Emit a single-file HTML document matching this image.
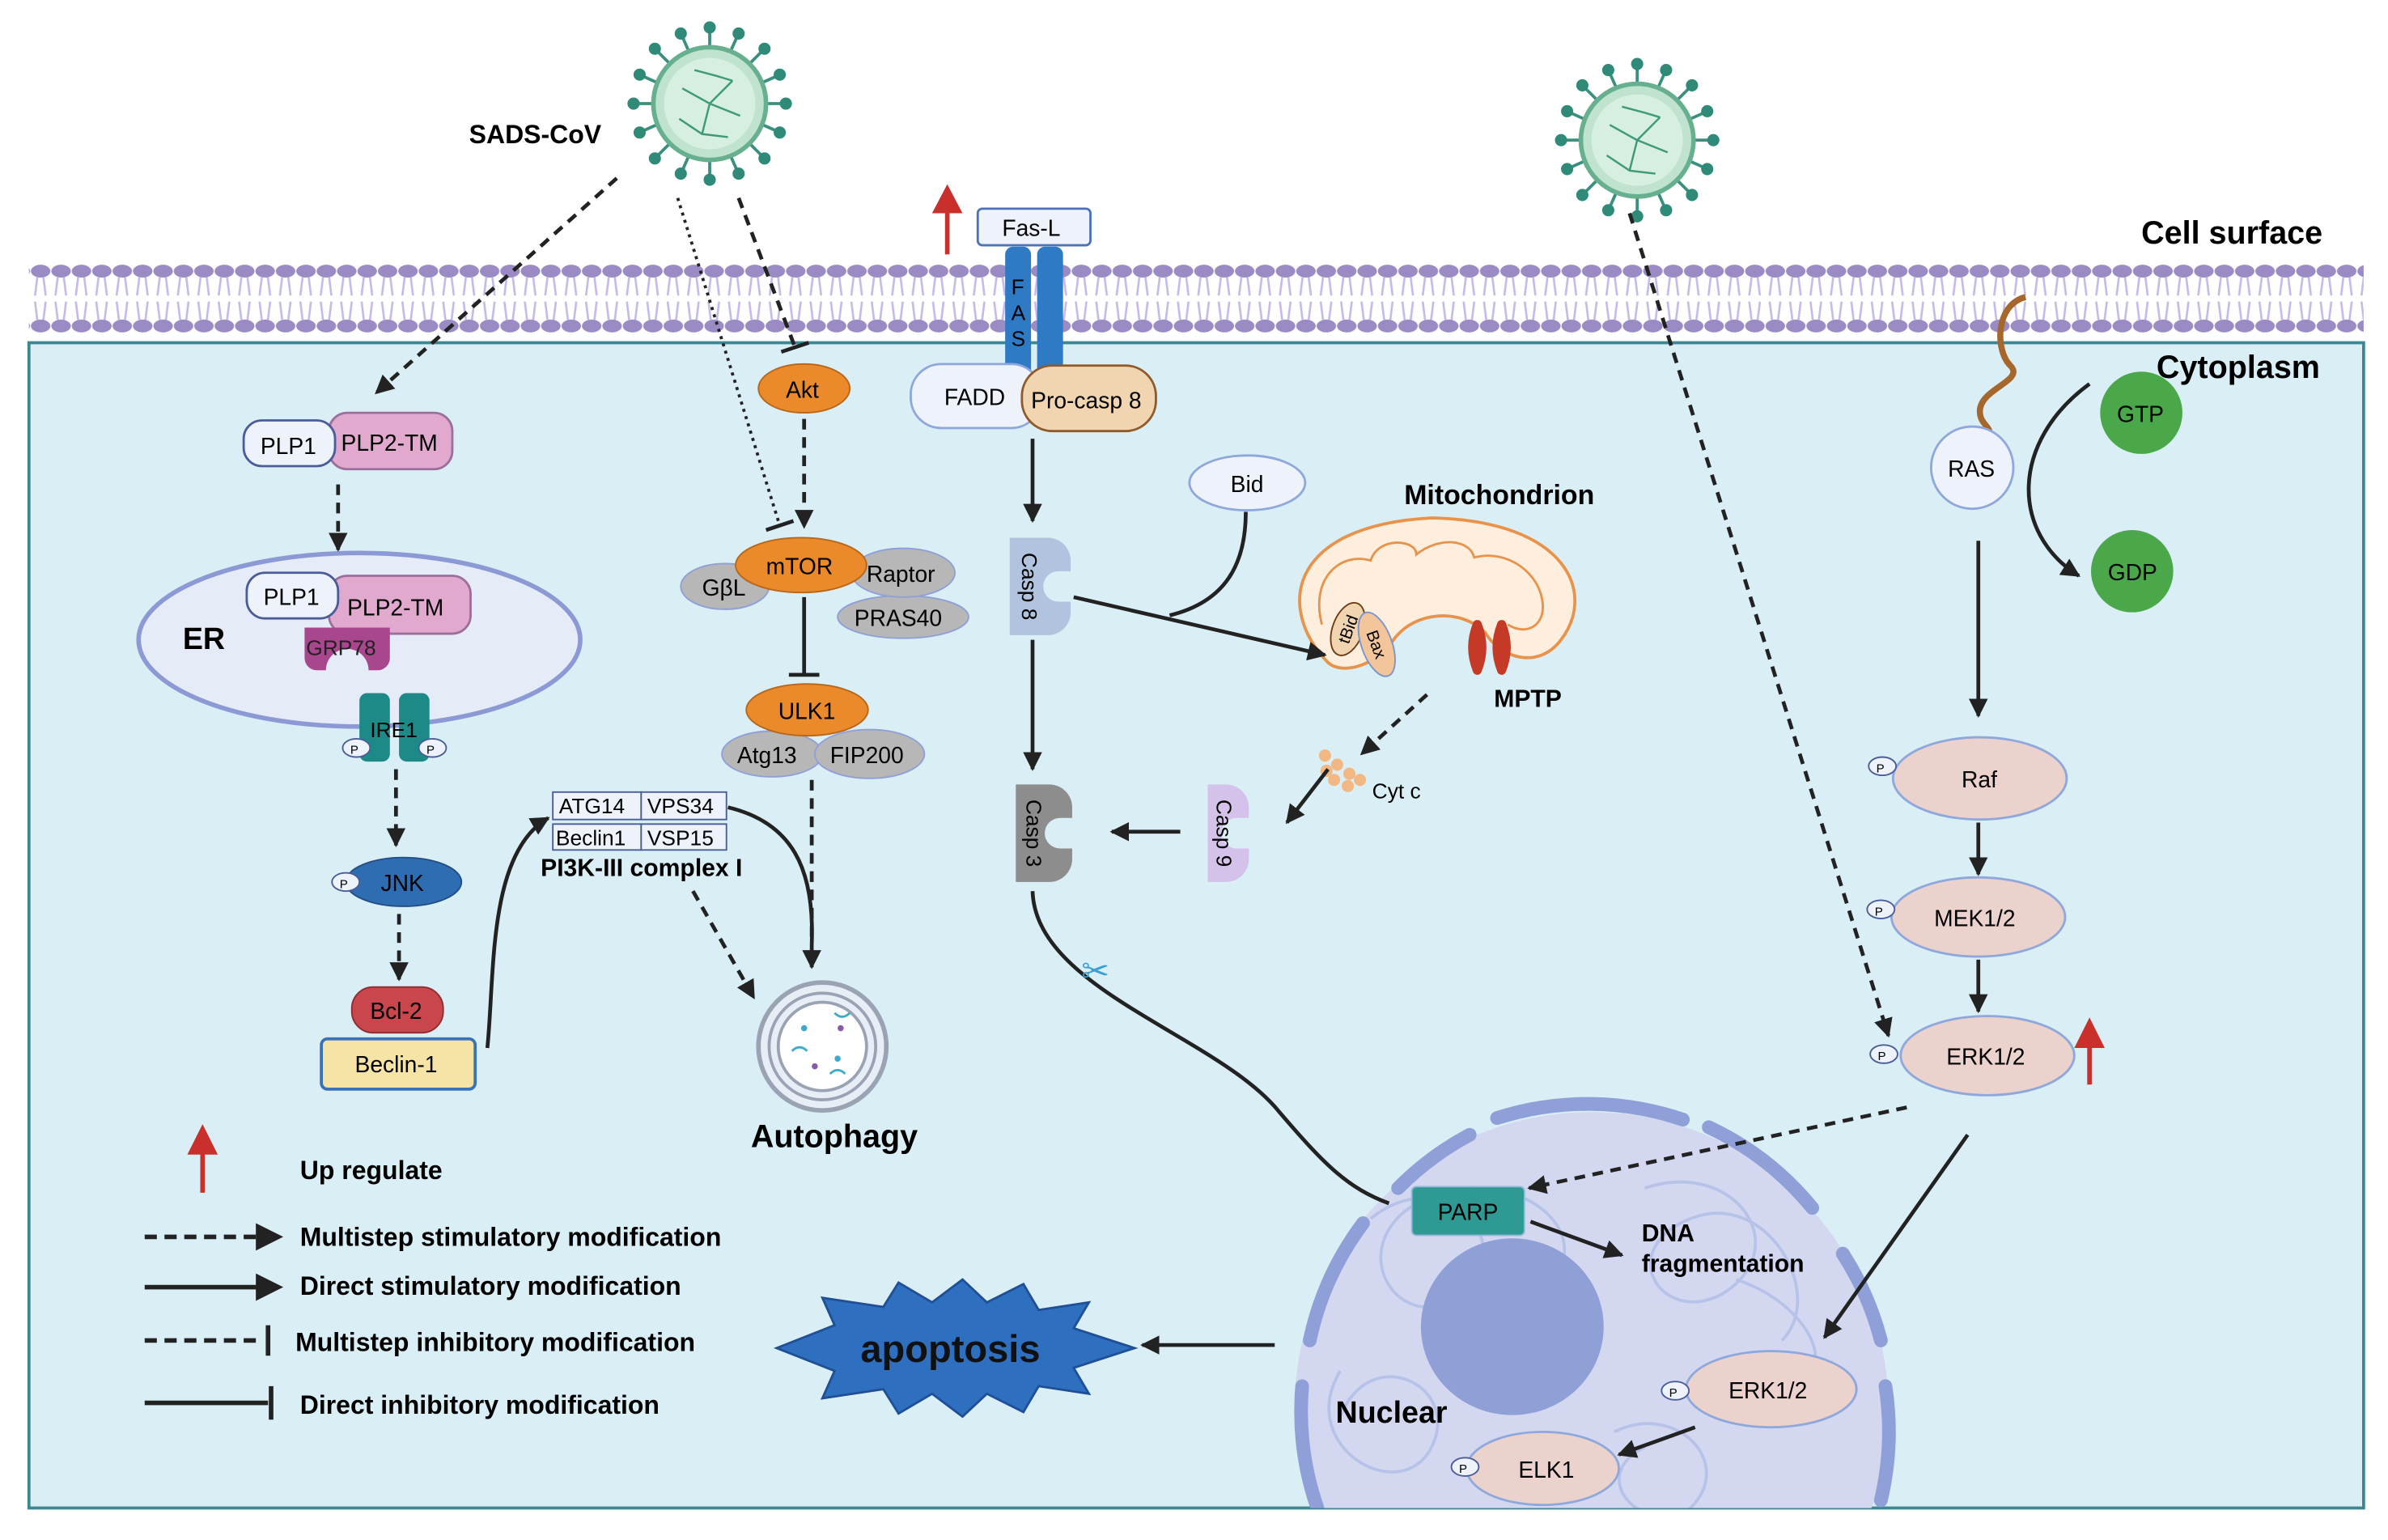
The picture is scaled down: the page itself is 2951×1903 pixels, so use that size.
<!DOCTYPE html>
<html><head><meta charset="utf-8"><style>
html,body{margin:0;padding:0;background:#fff;overflow:hidden;width:2951px;height:1903px;}
svg{display:block;}
text{font-family:"Liberation Sans",Arial,sans-serif;}
</style></head><body>
<svg width="2951" height="1903" viewBox="0 0 1568 1011" preserveAspectRatio="none" xmlns="http://www.w3.org/2000/svg">
<defs>
<pattern id="lip" x="20" y="170" width="13.4" height="52" patternUnits="userSpaceOnUse">
<path d="M4.5 12 L3 24 M8.5 12 L10 24 M3 28 L4.5 40 M10 28 L8.5 40" stroke="#c6b9ea" stroke-width="1.4" fill="none"/>
<ellipse cx="6.7" cy="8" rx="6.4" ry="4.2" fill="#9b8bc4"/>
<ellipse cx="6.7" cy="44" rx="6.4" ry="4.2" fill="#9b8bc4"/>
</pattern>
<marker id="ah" viewBox="0 0 10 10" refX="9" refY="5" markerWidth="5" markerHeight="5" orient="auto-start-reverse"><path d="M0 0 L10 5 L0 10 z" fill="#222"/></marker>
<clipPath id="cyt"><rect x="19" y="225" width="1533" height="765"/></clipPath>
<g id="virus">
<g stroke="#3a8f7e" stroke-width="2">
<line x1="0" y1="-38" x2="0" y2="-48"/><line x1="0" y1="38" x2="0" y2="48"/><line x1="-38" y1="0" x2="-48" y2="0"/><line x1="38" y1="0" x2="48" y2="0"/>
<line x1="27" y1="27" x2="34" y2="34"/><line x1="-27" y1="27" x2="-34" y2="34"/><line x1="27" y1="-27" x2="34" y2="-34"/><line x1="-27" y1="-27" x2="-34" y2="-34"/>
<line x1="14" y1="-35" x2="18" y2="-44"/><line x1="-14" y1="-35" x2="-18" y2="-44"/><line x1="14" y1="35" x2="18" y2="44"/><line x1="-14" y1="35" x2="-18" y2="44"/>
<line x1="35" y1="14" x2="44" y2="18"/><line x1="35" y1="-14" x2="44" y2="-18"/><line x1="-35" y1="14" x2="-44" y2="18"/><line x1="-35" y1="-14" x2="-44" y2="-18"/>
</g>
<g fill="#2f8a78">
<circle cx="0" cy="-50" r="4"/><circle cx="0" cy="50" r="4"/><circle cx="-50" cy="0" r="4"/><circle cx="50" cy="0" r="4"/>
<circle cx="36" cy="36" r="4"/><circle cx="-36" cy="36" r="4"/><circle cx="36" cy="-36" r="4"/><circle cx="-36" cy="-36" r="4"/>
<circle cx="19" cy="-46" r="4"/><circle cx="-19" cy="-46" r="4"/><circle cx="19" cy="46" r="4"/><circle cx="-19" cy="46" r="4"/>
<circle cx="46" cy="19" r="4"/><circle cx="46" cy="-19" r="4"/><circle cx="-46" cy="19" r="4"/><circle cx="-46" cy="-19" r="4"/>
</g>
<circle r="37" fill="#bfe3cf" stroke="#67b08f" stroke-width="3"/>
<circle r="30" fill="#d6efe0"/>
<path d="M-18 -10 L0 0 L15 -15 M0 0 L-5 20 M0 0 L20 8 M-20 10 L-5 20 L12 22 M-10 -22 L5 -18 L15 -15" stroke="#3f9a7a" stroke-width="1.3" fill="none"/>
</g>
</defs>

<rect x="19" y="225" width="1533" height="765" fill="#daeef5" stroke="#3c8790" stroke-width="2"/>
<rect x="19" y="170" width="1533" height="52" fill="url(#lip)"/>

<use href="#virus" x="466" y="68"/>
<use href="#virus" x="1075" y="92"/>
<text x="308" y="94" font-size="17" font-weight="bold">SADS-CoV</text>
<text x="1406" y="160" font-size="21" font-weight="bold">Cell surface</text>
<text x="1416" y="248" font-size="21" font-weight="bold">Cytoplasm</text>

<g clip-path="url(#cyt)">
<circle cx="1045" cy="925" r="195" fill="#d3d8f0"/>
<g fill="none" stroke="#8fa0d8" stroke-width="9" stroke-linecap="round">
<path d="M983 734 A195 195 0 0 1 1105 735"/>
<path d="M1122 740 A195 195 0 0 1 1190 793"/>
<path d="M1210 823 A195 195 0 0 1 1235 880"/>
<path d="M1238 910 A195 195 0 0 1 1235 985"/>
<path d="M965 745 A195 195 0 0 0 918 780"/>
<path d="M895 803 A195 195 0 0 0 860 880"/>
<path d="M855 910 A195 195 0 0 0 865 990"/>
</g>
<g fill="none" stroke="#b0bde6" stroke-width="2" opacity="0.8">
<path d="M900 800 C950 760 1000 820 960 850 C920 880 880 820 930 790 C980 760 1050 800 1020 840"/>
<path d="M1080 780 C1140 760 1180 820 1130 850 C1090 870 1060 820 1110 800 C1160 780 1200 850 1170 880"/>
<path d="M880 900 C850 950 920 990 940 950 C960 910 900 880 880 930"/>
<path d="M1060 940 C1100 920 1140 960 1110 990 C1080 1010 1040 970 1080 950"/>
<path d="M1140 840 C1200 860 1210 920 1160 900"/>
</g>
<ellipse cx="993" cy="871" rx="60" ry="58" fill="#8fa0d6"/>
</g>
<text x="877" y="934" font-size="20" font-weight="bold">Nuclear</text>

<ellipse cx="236" cy="420" rx="145" ry="57" fill="#e6ebf8" stroke="#8b99d4" stroke-width="3"/>
<text x="120" y="426" font-size="20" font-weight="bold">ER</text>
<rect x="216" y="271" width="81" height="37" rx="12" fill="#e2a9cf" stroke="#9b6f9c" stroke-width="1.5"/>
<rect x="160" y="276" width="60" height="30" rx="12" fill="#eef3fb" stroke="#4a5d98" stroke-width="1.5"/>
<text x="171" y="298" font-size="15">PLP1</text>
<text x="224" y="296" font-size="15">PLP2-TM</text>
<rect x="216" y="378" width="93" height="38" rx="12" fill="#e2a9cf" stroke="#9b6f9c" stroke-width="1.5"/>
<rect x="162" y="376" width="60" height="30" rx="12" fill="#eef3fb" stroke="#4a5d98" stroke-width="1.5"/>
<text x="173" y="397" font-size="15">PLP1</text>
<text x="228" y="404" font-size="15">PLP2-TM</text>
<path d="M200 412 h56 v20 a8 8 0 0 1 -8 8 h-6 a12 12 0 0 0 -28 0 h-6 a8 8 0 0 1 -8 -8z" fill="#a8478e"/>
<text x="201" y="430" font-size="14" fill="#222">GRP78</text>
<rect x="236" y="455" width="20" height="45" rx="5" fill="#1d8a88"/>
<rect x="262" y="455" width="20" height="45" rx="5" fill="#1d8a88"/>
<text x="243" y="484" font-size="14">IRE1</text>
<ellipse cx="234" cy="491" rx="9" ry="6" fill="#eef3fb" stroke="#4a5d98"/><text x="230" y="495" font-size="8">P</text>
<ellipse cx="284" cy="491" rx="9" ry="6" fill="#eef3fb" stroke="#4a5d98"/><text x="280" y="495" font-size="8">P</text>
<ellipse cx="265" cy="579" rx="38" ry="16" fill="#2f6db3" stroke="#234f86"/>
<text x="250" y="585" font-size="15">JNK</text>
<ellipse cx="227" cy="579" rx="9" ry="6" fill="#eef3fb" stroke="#4a5d98"/><text x="223" y="583" font-size="8">P</text>
<rect x="231" y="648" width="60" height="30" rx="14" fill="#c9474c" stroke="#8e2e33"/>
<text x="243" y="669" font-size="15">Bcl-2</text>
<rect x="211" y="682" width="101" height="33" rx="4" fill="#f6e3a6" stroke="#3a72b8" stroke-width="2"/>
<text x="233" y="704" font-size="15">Beclin-1</text>

<ellipse cx="528" cy="255" rx="30" ry="16" fill="#ea8a2a" stroke="#b7661a"/>
<text x="516" y="261" font-size="15">Akt</text>
<ellipse cx="593" cy="405" rx="43" ry="14" fill="#b7b7b7" stroke="#8fa0d8"/>
<text x="561" y="411" font-size="15">PRAS40</text>
<ellipse cx="476" cy="385" rx="29" ry="15" fill="#b7b7b7" stroke="#8fa0d8"/>
<text x="461" y="391" font-size="15">GβL</text>
<ellipse cx="593" cy="376" rx="34" ry="16" fill="#b7b7b7" stroke="#8fa0d8"/>
<text x="569" y="382" font-size="15">Raptor</text>
<ellipse cx="526" cy="371" rx="43" ry="18" fill="#ea8a2a" stroke="#b7661a"/>
<text x="503" y="377" font-size="15">mTOR</text>
<ellipse cx="507" cy="495" rx="33" ry="15" fill="#b7b7b7" stroke="#8fa0d8"/>
<text x="484" y="501" font-size="15">Atg13</text>
<ellipse cx="571" cy="495" rx="36" ry="16" fill="#b7b7b7" stroke="#8fa0d8"/>
<text x="545" y="501" font-size="15">FIP200</text>
<ellipse cx="530" cy="466" rx="40" ry="17" fill="#ea8a2a" stroke="#b7661a"/>
<text x="511" y="472" font-size="15">ULK1</text>
<rect x="363" y="520" width="58" height="18" fill="#eef3fb" stroke="#4a5d98"/><text x="367" y="534" font-size="14">ATG14</text>
<rect x="421" y="520" width="56" height="18" fill="#eef3fb" stroke="#4a5d98"/><text x="425" y="534" font-size="14">VPS34</text>
<rect x="363" y="541" width="58" height="17" fill="#eef3fb" stroke="#4a5d98"/><text x="365" y="555" font-size="14">Beclin1</text>
<rect x="421" y="541" width="56" height="17" fill="#eef3fb" stroke="#4a5d98"/><text x="425" y="555" font-size="14">VSP15</text>
<text x="355" y="575" font-size="16" font-weight="bold">PI3K-III complex I</text>
<circle cx="540" cy="687" r="42" fill="#e8eef6" stroke="#9aa3b3" stroke-width="3"/>
<circle cx="540" cy="687" r="35" fill="none" stroke="#9aa3b3" stroke-width="2"/>
<circle cx="540" cy="687" r="29" fill="#fff" stroke="#9aa3b3" stroke-width="2"/>
<g fill="#3fa9c9"><circle cx="528" cy="675" r="2"/><circle cx="550" cy="695" r="2"/><circle cx="535" cy="700" r="2" fill="#8a5aa8"/><circle cx="552" cy="675" r="2" fill="#8a5aa8"/></g>
<path d="M520 690 q5 -5 10 0 M545 705 q5 -5 10 0 M548 665 q5 5 10 0" stroke="#3fa9c9" stroke-width="1.5" fill="none"/>
<text x="493" y="753" font-size="21" font-weight="bold">Autophagy</text>

<rect x="642" y="137" width="74" height="24" rx="3" fill="#eef3fb" stroke="#4a72b8" stroke-width="1.5"/>
<text x="658" y="155" font-size="15">Fas-L</text>
<rect x="660" y="162" width="17" height="90" rx="5" fill="#2f7ac4"/>
<rect x="681" y="162" width="17" height="90" rx="5" fill="#2f7ac4"/>
<text x="664" y="193" font-size="14">F</text><text x="664" y="210" font-size="14">A</text><text x="664" y="227" font-size="14">S</text>
<path d="M622 167 V135" stroke="#c9302c" stroke-width="3"/><path d="M612 140 L622 121 L632 140 z" fill="#c9302c"/>
<rect x="598" y="239" width="86" height="42" rx="20" fill="#eef3fb" stroke="#8fa8dc" stroke-width="1.5"/>
<text x="620" y="266" font-size="15">FADD</text>
<rect x="671" y="240" width="88" height="43" rx="20" fill="#f1d5b0" stroke="#8e5a2a" stroke-width="1.5"/>
<text x="677" y="268" font-size="15">Pro-casp 8</text>

<path d="M663 353 h25 a15 15 0 0 1 15 15 v7 h-8 a10 10 0 0 0 0 20 h8 v7 a15 15 0 0 1 -15 15 h-25 z" fill="#b1c3df"/>
<text x="676" y="390" font-size="14" text-anchor="middle" transform="rotate(90 676 385)">Casp 8</text>
<path d="M667 515 h22 a15 15 0 0 1 15 15 v7 h-8 a10 10 0 0 0 0 20 h8 v7 a15 15 0 0 1 -15 15 h-22 z" fill="#8d8d8d"/>
<text x="679" y="552" font-size="14" text-anchor="middle" transform="rotate(90 679 547)">Casp 3</text>
<path d="M793 515 h12 a15 15 0 0 1 15 15 v7 h-8 a10 10 0 0 0 0 20 h8 v7 a15 15 0 0 1 -15 15 h-12 z" fill="#d5c2ea"/>
<text x="804" y="552" font-size="14" text-anchor="middle" transform="rotate(90 804 547)">Casp 9</text>

<ellipse cx="819" cy="317" rx="38" ry="18" fill="#eef3fb" stroke="#8fa8dc" stroke-width="1.5"/>
<text x="808" y="323" font-size="15">Bid</text>
<text x="922" y="331" font-size="18" font-weight="bold">Mitochondrion</text>
<path d="M872 435 C838 400 845 345 940 340 C1030 342 1048 390 1025 420 C1010 440 985 432 975 415 C960 400 930 400 915 420 C900 440 880 442 872 435 z" fill="#fdeedd" stroke="#e9924a" stroke-width="2"/>
<path d="M868 410 C860 380 880 362 900 368 C905 352 930 354 930 364 C945 352 965 354 968 366 C990 360 1012 377 1013 397 C1014 410 1003 418 990 410" fill="none" stroke="#e9924a" stroke-width="1.5"/>
<ellipse cx="885" cy="413" rx="10" ry="18" fill="#f1d5b0" stroke="#6b3c15" transform="rotate(20 885 413)"/>
<text x="885" y="417" font-size="11" text-anchor="middle" transform="rotate(-70 885 413)">tBid</text>
<ellipse cx="904" cy="423" rx="10" ry="22" fill="#f3c59a" stroke="#7a95cc" transform="rotate(-20 904 423)"/>
<text x="904" y="427" font-size="11" text-anchor="middle" transform="rotate(70 904 423)">Bax</text>
<path d="M970 410 q-6 15 0 30 q6 -15 0 -30 z M986 410 q-6 15 0 30 q6 -15 0 -30 z" fill="#c53a26" stroke="#c53a26" stroke-width="6" stroke-linejoin="round"/>
<text x="981" y="464" font-size="16" font-weight="bold">MPTP</text>
<g fill="#f2b884"><circle cx="870" cy="496" r="4"/><circle cx="878" cy="502" r="4"/><circle cx="886" cy="508" r="4"/><circle cx="876" cy="512" r="4"/><circle cx="885" cy="516" r="4"/><circle cx="893" cy="512" r="4"/><circle cx="871" cy="506" r="4"/></g>
<text x="901" y="524" font-size="14">Cyt c</text>

<path d="M1330 195 C1310 200 1310 230 1320 240 C1330 250 1300 255 1300 270 C1300 280 1310 280 1305 288" fill="none" stroke="#a5672c" stroke-width="4"/>
<circle cx="1295" cy="307" r="27" fill="#eef3fb" stroke="#8fa8dc" stroke-width="1.5"/>
<text x="1279" y="313" font-size="15">RAS</text>
<circle cx="1406" cy="271" r="27" fill="#4aa84a"/>
<text x="1390" y="277" font-size="15">GTP</text>
<circle cx="1400" cy="375" r="27" fill="#4aa84a"/>
<text x="1384" y="381" font-size="15">GDP</text>
<ellipse cx="1300" cy="511" rx="57" ry="27" fill="#ecd2cc" stroke="#8fa8dc" stroke-width="1.5"/>
<text x="1288" y="517" font-size="15">Raf</text>
<ellipse cx="1299" cy="602" rx="57" ry="26" fill="#ecd2cc" stroke="#8fa8dc" stroke-width="1.5"/>
<text x="1270" y="608" font-size="15">MEK1/2</text>
<ellipse cx="1305" cy="693" rx="57" ry="26" fill="#ecd2cc" stroke="#8fa8dc" stroke-width="1.5"/>
<text x="1278" y="699" font-size="15">ERK1/2</text>
<g font-size="8"><ellipse cx="1236" cy="503" rx="9" ry="6" fill="#eef3fb" stroke="#4a5d98"/><text x="1232" y="507">P</text>
<ellipse cx="1235" cy="597" rx="9" ry="6" fill="#eef3fb" stroke="#4a5d98"/><text x="1231" y="601">P</text>
<ellipse cx="1237" cy="692" rx="9" ry="6" fill="#eef3fb" stroke="#4a5d98"/><text x="1233" y="696">P</text></g>
<path d="M1372 712 V684" stroke="#c9302c" stroke-width="3"/><path d="M1362 688 L1372 668 L1382 688 z" fill="#c9302c"/>
<rect x="927" y="779" width="74" height="32" rx="3" fill="#2e9a93" stroke="#9ab6dc"/>
<text x="944" y="801" font-size="15">PARP</text>
<text x="1078" y="815" font-size="16" font-weight="bold">DNA</text>
<text x="1078" y="835" font-size="16" font-weight="bold">fragmentation</text>
<ellipse cx="1163" cy="912" rx="56" ry="25" fill="#ecd2cc" stroke="#8fa8dc" stroke-width="1.5"/>
<text x="1135" y="918" font-size="15">ERK1/2</text>
<ellipse cx="1013" cy="964" rx="50" ry="24" fill="#ecd2cc" stroke="#8fa8dc" stroke-width="1.5"/>
<text x="997" y="970" font-size="15">ELK1</text>
<g font-size="8"><ellipse cx="1100" cy="913" rx="9" ry="6" fill="#eef3fb" stroke="#4a5d98"/><text x="1096" y="917">P</text>
<ellipse cx="962" cy="963" rx="9" ry="6" fill="#eef3fb" stroke="#4a5d98"/><text x="958" y="967">P</text></g>

<polygon points="510,885 548,870 540,852 580,858 590,842 612,855 632,840 648,855 672,843 682,860 715,855 705,872 745,885 705,898 715,915 682,910 672,927 648,915 632,930 612,915 590,928 580,912 540,918 548,900" fill="#2f6fc0" stroke="#1f4f95" stroke-width="1.5"/>
<text x="565" y="894" font-size="25" font-weight="bold" fill="#111">apoptosis</text>

<g stroke="#222" stroke-width="2.5" fill="none">
<g stroke-dasharray="7 5" marker-end="url(#ah)">
<line x1="405" y1="117" x2="247" y2="258"/>
<line x1="222" y1="318" x2="222" y2="361"/>
<line x1="260" y1="505" x2="260" y2="555"/>
<line x1="262" y1="600" x2="262" y2="643"/>
<line x1="528" y1="275" x2="528" y2="346"/>
<line x1="533" y1="512" x2="533" y2="635"/>
<line x1="455" y1="585" x2="495" y2="655"/>
<line x1="937" y1="456" x2="894" y2="495"/>
<line x1="1070" y1="140" x2="1240" y2="680"/>
<line x1="1252" y1="727" x2="1004" y2="780"/>
</g>
<line x1="485" y1="130" x2="522" y2="228" stroke-dasharray="7 5"/>
<line x1="513" y1="231" x2="531" y2="225"/>
<line x1="445" y1="130" x2="512" y2="345" stroke-dasharray="2 3" stroke-width="2"/>
<line x1="503" y1="348" x2="521" y2="342"/>
<line x1="528" y1="392" x2="528" y2="443"/>
<line x1="518" y1="443" x2="538" y2="443"/>
<path d="M320 688 C325 640 320 560 360 537" marker-end="url(#ah)"/>
<path d="M478 530 C520 540 535 570 533 620"/>
<line x1="678" y1="288" x2="678" y2="342" marker-end="url(#ah)"/>
<line x1="678" y1="420" x2="678" y2="505" marker-end="url(#ah)"/>
<line x1="705" y1="392" x2="870" y2="430" marker-end="url(#ah)"/>
<path d="M818 336 C818 370 805 395 768 404"/>
<line x1="775" y1="546" x2="730" y2="546" marker-end="url(#ah)"/>
<path d="M678 585 C680 650 800 680 840 730 C870 765 885 780 912 790"/>
<path d="M1372 252 C1320 290 1320 350 1365 378" marker-end="url(#ah)"/>
<line x1="1299" y1="355" x2="1299" y2="470" marker-end="url(#ah)"/>
<line x1="1299" y1="540" x2="1299" y2="574" marker-end="url(#ah)"/>
<line x1="1299" y1="630" x2="1299" y2="664" marker-end="url(#ah)"/>
<line x1="1292" y1="745" x2="1198" y2="878" marker-end="url(#ah)"/>
<line x1="1113" y1="937" x2="1063" y2="955" marker-end="url(#ah)"/>
<line x1="1005" y1="802" x2="1065" y2="824" marker-end="url(#ah)"/>
<line x1="837" y1="883" x2="750" y2="883" marker-end="url(#ah)"/>
<line x1="872" y1="505" x2="845" y2="540" marker-end="url(#ah)"/>
</g>
<text x="710" y="645" font-size="22" fill="#3a9fd6">✂</text>

<path d="M133 783 V755" stroke="#c9302c" stroke-width="3"/><path d="M123 758 L133 738 L143 758 z" fill="#c9302c"/>
<text x="197" y="774" font-size="17" font-weight="bold">Up regulate</text>
<g stroke="#222" stroke-width="3" fill="none">
<line x1="95" y1="812" x2="172" y2="812" stroke-dasharray="8 5"/>
<line x1="95" y1="845" x2="172" y2="845"/>
<line x1="95" y1="880" x2="172" y2="880" stroke-dasharray="8 5"/>
<line x1="176" y1="870" x2="176" y2="890"/>
<line x1="95" y1="921" x2="176" y2="921"/>
<line x1="178" y1="910" x2="178" y2="932"/>
</g>
<path d="M168 803 L186 812 L168 821 z M168 836 L186 845 L168 854 z" fill="#222"/>
<g font-size="17" font-weight="bold">
<text x="197" y="818">Multistep stimulatory modification</text>
<text x="197" y="850">Direct stimulatory modification</text>
<text x="194" y="887">Multistep inhibitory modification</text>
<text x="197" y="928">Direct inhibitory modification</text>
</g>
</svg>
</body></html>
